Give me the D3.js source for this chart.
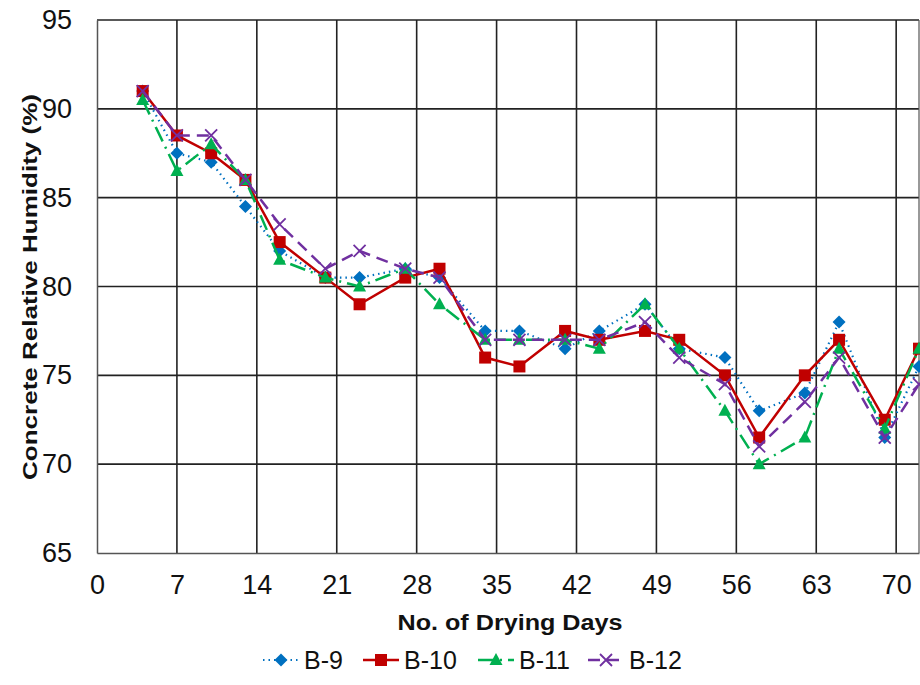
<!DOCTYPE html>
<html>
<head>
<meta charset="utf-8">
<script src="https://cdn.jsdelivr.net/npm/d3@7"></script>
<style>
  body { margin: 0; background: #fff; }
  svg { display: block; }
</style>
</head>
<body>
<div id="chart"></div>
<script>
const days = [4, 7, 10, 13, 16, 20, 23, 27, 30, 34, 37, 41, 44, 48, 51, 55, 58, 62, 65, 69, 72];
const b9  = [91, 87.5, 87, 84.5, 82, 80.5, 80.5, 81, 80.5, 77.5, 77.5, 76.5, 77.5, 79, 76.5, 76, 73, 74, 78, 71.5, 75.5];
const b10 = [91, 88.5, 87.5, 86, 82.5, 80.5, 79, 80.5, 81, 76, 75.5, 77.5, 77, 77.5, 77, 75, 71.5, 75, 77, 72.5, 76.5];
const b11 = [90.5, 86.5, 88, 86, 81.5, 80.5, 80, 81, 79, 77, 77, 77, 76.5, 79, 76.5, 73, 70, 71.5, 76.5, 72, 76.5];
const b12 = [91, 88.5, 88.5, 86, 83.5, 81, 82, 81, 80.5, 77, 77, 77, 77, 78, 76, 74.5, 71, 73.5, 76, 71.5, 74.5];
const xTicks = [0, 7, 14, 21, 28, 35, 42, 49, 56, 63, 70];
const yTicks = [65, 70, 75, 80, 85, 90, 95];

const series = [
  { name: 'B-9',  values: b9,  color: '#0070C0', dash: '1.5,4', width: 2.2, marker: 'diamond' },
  { name: 'B-10', values: b10, color: '#C00000', dash: null,    width: 2.5, marker: 'square' },
  { name: 'B-11', values: b11, color: '#00B050', dash: '16,6,2,6', width: 2.5, marker: 'triangle' },
  { name: 'B-12', values: b12, color: '#7030A0', dash: '12,7',  width: 2.5, marker: 'cross' }
];

const width = 920, height = 685;
const plotLeft = 97, plotRight = 919, plotTop = 20, plotBottom = 553;
const font = '"Liberation Sans", Arial, sans-serif';

const svg = d3.select('#chart').append('svg')
  .attr('width', width)
  .attr('height', height);

const x = d3.scaleLinear().domain([0, 72]).range([plotLeft, plotRight]);
const y = d3.scaleLinear().domain([65, 95]).range([plotBottom, plotTop]);

// grid
svg.append('g')
  .selectAll('line')
  .data(xTicks.slice(1))
  .enter().append('line')
  .attr('x1', d => x(d)).attr('x2', d => x(d))
  .attr('y1', plotTop).attr('y2', plotBottom)
  .attr('stroke', '#222').attr('stroke-width', 1.6);

svg.append('g')
  .selectAll('line')
  .data(yTicks.slice(1))
  .enter().append('line')
  .attr('x1', plotLeft).attr('x2', plotRight)
  .attr('y1', d => y(d)).attr('y2', d => y(d))
  .attr('stroke', '#222').attr('stroke-width', 1.6);

svg.append('line')
  .attr('x1', plotRight).attr('x2', plotRight).attr('y1', plotTop).attr('y2', plotBottom)
  .attr('stroke', '#555').attr('stroke-width', 1.2);

// axes
const xAxis = svg.append('g')
  .attr('transform', `translate(0,${plotBottom})`)
  .call(d3.axisBottom(x).tickValues(xTicks).tickSize(0).tickPadding(22));
xAxis.select('.domain').attr('stroke', '#555').attr('stroke-width', 1.5);
xAxis.selectAll('text')
  .attr('font-family', '"Liberation Sans Narrow", "Liberation Sans", Arial, sans-serif')
  .attr('font-size', 27).attr('fill', '#111');

const yAxis = svg.append('g')
  .attr('transform', `translate(${plotLeft},0)`)
  .call(d3.axisLeft(y).tickValues(yTicks).tickSize(0).tickPadding(25));
yAxis.select('.domain').attr('stroke', '#555').attr('stroke-width', 1.5);
yAxis.selectAll('text')
  .attr('font-family', font)
  .attr('font-size', 27).attr('fill', '#111');

// axis titles
svg.append('text')
  .attr('x', 510).attr('y', 630)
  .attr('text-anchor', 'middle')
  .attr('font-family', font)
  .attr('font-weight', 'bold').attr('font-size', 22).attr('fill', '#111')
  .attr('textLength', 225).attr('lengthAdjust', 'spacingAndGlyphs')
  .text('No. of Drying Days');

svg.append('text')
  .attr('transform', 'translate(37,287) rotate(-90)')
  .attr('text-anchor', 'middle')
  .attr('font-family', font)
  .attr('font-weight', 'bold').attr('font-size', 21).attr('fill', '#111')
  .attr('textLength', 386).attr('lengthAdjust', 'spacingAndGlyphs')
  .text('Concrete Relative Humidity (%)');

function drawMarker(g, type, color) {
  if (type === 'square') {
    g.append('rect').attr('x', -6).attr('y', -6).attr('width', 12).attr('height', 12).attr('fill', color);
  } else if (type === 'diamond') {
    g.append('path').attr('d', 'M0,-6.5L6.5,0L0,6.5L-6.5,0Z').attr('fill', color);
  } else if (type === 'triangle') {
    g.append('path').attr('d', 'M0,-7L6.5,5L-6.5,5Z').attr('fill', color);
  } else {
    g.append('path').attr('d', 'M-6,-6L6,6M-6,6L6,-6').attr('stroke', color).attr('stroke-width', 1.8).attr('fill', 'none');
  }
}

const line = d3.line()
  .x((d, i) => x(days[i]))
  .y(d => y(d));

const plot = svg.append('g');
series.forEach(s => {
  plot.append('path')
    .datum(s.values)
    .attr('fill', 'none')
    .attr('stroke', s.color)
    .attr('stroke-width', s.width)
    .attr('stroke-dasharray', s.dash)
    .attr('d', line);
  s.values.forEach((v, i) => {
    const g = plot.append('g').attr('transform', `translate(${x(days[i])},${y(v)})`);
    drawMarker(g, s.marker, s.color);
  });
});

// legend
const legendX = [263, 363, 478, 588];
const legend = svg.append('g').attr('transform', 'translate(0,660)');
series.forEach((s, i) => {
  const g = legend.append('g').attr('transform', `translate(${legendX[i]},0)`);
  g.append('line')
    .attr('x1', 0).attr('x2', 36)
    .attr('stroke', s.color)
    .attr('stroke-width', s.width)
    .attr('stroke-dasharray', s.dash);
  drawMarker(g.append('g').attr('transform', 'translate(18,0)'), s.marker, s.color);
  g.append('text')
    .attr('x', 41).attr('y', 9)
    .attr('font-family', font)
    .attr('font-size', 25).attr('fill', '#111')
    .text(s.name);
});
</script>
</body>
</html>
